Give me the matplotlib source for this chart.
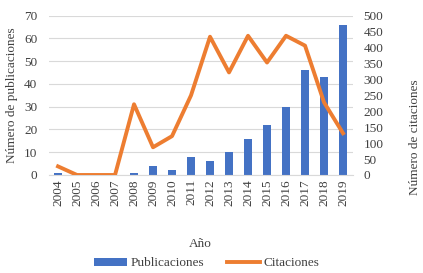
import matplotlib
matplotlib.use("Agg")
import matplotlib.pyplot as plt
import numpy as np

# ---- DATA ----
years = ['2004', '2005', '2006', '2007', '2008', '2009', '2010', '2011',
         '2012', '2013', '2014', '2015', '2016', '2017', '2018', '2019']
publicaciones = [1, 0, 0, 0, 1, 4, 2, 8, 6, 10, 16, 22, 30, 46, 43, 66]
citaciones = [27, 0, 0, 0, 222, 87, 122, 250, 434, 322, 437, 353, 437, 406, 228, 131]

plt.rcParams['font.family'] = ['Liberation Serif', 'DejaVu Serif']
txt = '#404040'

fig = plt.figure(figsize=(4.23, 2.73), dpi=100)
ax = fig.add_axes([0.1147, 0.359, 0.7187, 0.5835])
ax2 = ax.twinx()

x = np.arange(len(years))
bars = ax.bar(x, publicaciones, width=0.45, color='#4472C4', zorder=2, label='Publicaciones')
ln, = ax2.plot(x, citaciones, color='#ED7D31', lw=2.8, zorder=3, label='Citaciones')

ax.set_xlim(-0.5, len(years) - 0.5)
ax.set_ylim(0, 70)
ax.set_yticks(range(0, 71, 10))
ax2.set_ylim(0, 500)
ax2.set_yticks(range(0, 501, 50))
ax.grid(axis='y', color='#D9D9D9', lw=0.8, zorder=0)
ax.set_axisbelow(True)

ax.set_xticks(x)
ax.set_xticklabels(years, rotation=90, fontsize=9.5, color=txt)
ax.tick_params(axis='y', labelsize=9.5, labelcolor=txt, length=0, pad=8)
ax2.tick_params(axis='y', labelsize=9.5, labelcolor=txt, length=0, pad=8)
ax.tick_params(axis='x', length=0, pad=3)

for a in (ax, ax2):
    for s in a.spines.values():
        s.set_visible(False)
ax.spines['bottom'].set_visible(True)
ax.spines['bottom'].set_color('#D9D9D9')

ax.set_ylabel('Número de publicaciones', fontsize=9.5, color=txt, labelpad=4)
ax.set_xlabel('Año', fontsize=9.5, color=txt, labelpad=23)
# right axis title sits low and far right, as in the original
fig.text(0.981, 0.498, 'Número de citaciones', rotation=90, ha='center', va='center',
         fontsize=9.5, color=txt)

fig.legend([bars, ln], ['Publicaciones', 'Citaciones'], loc='center',
           bbox_to_anchor=(0.488, 0.035), ncol=2, frameon=False, fontsize=9.5,
           labelcolor=txt, handlelength=2.5, handleheight=0.5,
           columnspacing=1.7, handletextpad=0.3)

fig.savefig('out.png', dpi=100)
